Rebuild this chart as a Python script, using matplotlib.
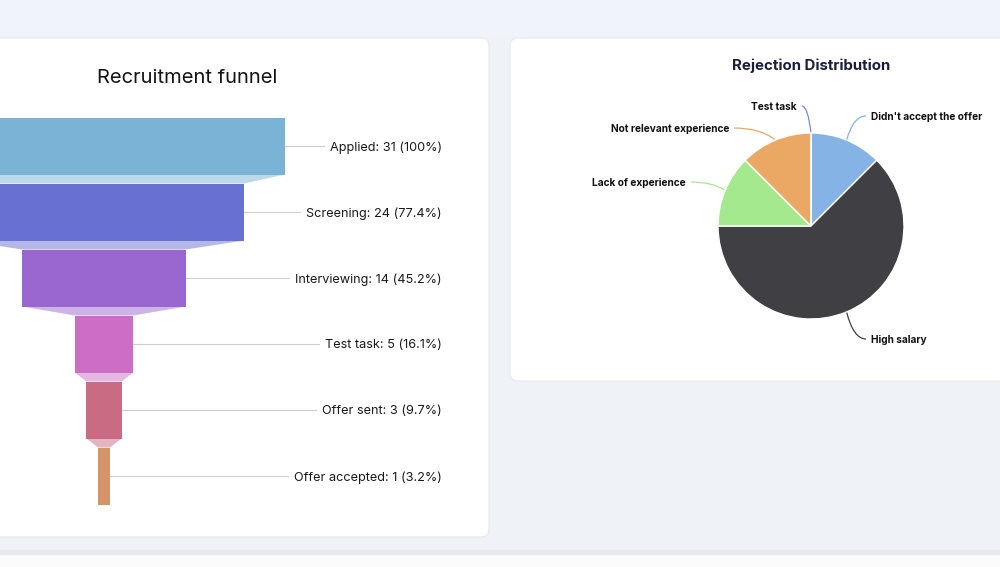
import numpy as np
import matplotlib
matplotlib.use("Agg")
import matplotlib.pyplot as plt
from matplotlib.patches import FancyBboxPatch, Rectangle, Polygon, PathPatch
from matplotlib.path import Path
from matplotlib.colors import to_rgb

plt.rcParams['font.family'] = ['Inter', 'DejaVu Sans']

# ---------------- data ----------------
stages = ["Applied", "Screening", "Interviewing", "Test task", "Offer sent", "Offer accepted"]
counts = [31, 24, 14, 5, 3, 1]
stage_colors = ["#79b3d6", "#6870d2", "#9a66cf", "#cc6ec6", "#c96b82", "#d4956a"]

reasons = ["Didn't accept the offer", "High salary", "Lack of experience",
           "Not relevant experience", "Test task"]
reason_counts = [1, 5, 1, 1, 0]
reason_colors = ["#85b3e6", "#404044", "#a5e98f", "#eba865", "#8085e9"]

# ---------------- figure / background ----------------
W, H = 1000, 567
fig = plt.figure(figsize=(W / 100, H / 100), dpi=100)
fig.patch.set_facecolor("#eff2f6")

bg = fig.add_axes([0, 0, 1, 1])
bg.set_xlim(0, W)
bg.set_ylim(H, 0)
bg.axis("off")
bg.add_patch(Rectangle((0, 0), W, 37, color="#f0f4fa", zorder=0))
bg.add_patch(Rectangle((0, 37), W, 515, color="#eff2f6", zorder=0))
bg.add_patch(Rectangle((0, 552), W, 15, color="#fbfbfc", zorder=0))
bg.add_patch(Rectangle((0, 550), W, 4, color="#e6e9ee", zorder=0))
# cards
bg.add_patch(FancyBboxPatch((-20, 38), 509, 499, boxstyle="round,pad=0,rounding_size=8",
                            fc="white", ec="#e6e9ee", lw=0.8, zorder=1))
bg.add_patch(FancyBboxPatch((510, 38), 510, 343, boxstyle="round,pad=0,rounding_size=8",
                            fc="white", ec="#e6e9ee", lw=0.8, zorder=1))

# titles
bg.text(187, 78, "Recruitment funnel", ha="center", va="center", fontsize=14.5,
        color="#141414", zorder=3)
bg.text(811, 66, "Rejection Distribution", ha="center", va="center", fontsize=10.8,
        fontweight="bold", color="#1c1d3c", zorder=3)

# ---------------- funnel ----------------
cx_px = 104.0
px_per_unit = 362.0 / counts[0]
fa = fig.add_axes([0, (H - 509) / H, 0.489, 396 / H])
fa.set_xlim(-cx_px / px_per_unit, (489 - cx_px) / px_per_unit)
fa.set_ylim(len(stages) - 0.5, -0.5)
fa.axis("off")
fa.patch.set_alpha(0)

bar_h = 57 / 66


def lighten(c, f=0.5):
    r, g, b = to_rgb(c)
    return (r + (1 - r) * f, g + (1 - g) * f, b + (1 - b) * f)


ypos = np.arange(len(stages))
fa.barh(ypos, counts, left=[-c / 2 for c in counts], height=bar_h,
        color=stage_colors, zorder=3)
for i in range(len(stages) - 1):
    top = i + bar_h / 2
    bot = i + 1 - bar_h / 2
    a, b = counts[i] / 2, counts[i + 1] / 2
    fa.add_patch(Polygon([(-a, top), (a, top), (b, bot), (-b, bot)],
                         closed=True, fc=lighten(stage_colors[i], 0.5), ec="none", zorder=2))

label_x = (442 - cx_px) / px_per_unit
texts = []
for i, (s, c) in enumerate(zip(stages, counts)):
    pct = c / counts[0] * 100
    ps = f"{pct:.1f}".rstrip("0").rstrip(".")
    t = fa.text(label_x, i, f"{s}: {c} ({ps}%)", ha="right", va="center_baseline",
                fontsize=9.15, color="#1a1a1a", zorder=4)
    texts.append(t)

fig.canvas.draw()
inv = fa.transData.inverted()
for i, (t, c) in enumerate(zip(texts, counts)):
    bb = t.get_window_extent()
    x_left = inv.transform((bb.x0, 0))[0]
    gap = 6 / px_per_unit
    fa.plot([c / 2, x_left - gap], [i, i], color="#cfcfcf", lw=0.8, zorder=1)

# ---------------- pie ----------------
pcx, pcy, pr = 811.0, 226.0, 93.0
half = 150.0
pa = fig.add_axes([(pcx - half) / W, (H - pcy - half) / H, 2 * half / W, 2 * half / H])
wedges, _ = pa.pie(reason_counts, colors=reason_colors, startangle=90, counterclock=False,
                   radius=1.0, wedgeprops=dict(edgecolor="white", linewidth=1.0))
lim = half / pr
pa.set_xlim(-lim, lim)
pa.set_ylim(-lim, lim)
pa.set_aspect("equal")
pa.axis("off")


def p2d(px, py):
    return ((px - pcx) / pr, (pcy - py) / pr)


# label anchors in pixel layout: (x, y, ha)
label_layout = [(871, 116, "left"), (871, 339, "left"), (686, 182, "right"),
                (729, 128, "right"), (797, 106, "right")]

for w, name, col, (lx, ly, ha) in zip(wedges, reasons, reason_colors, label_layout):
    mid = np.deg2rad((w.theta1 + w.theta2) / 2)
    ex, ey = np.cos(mid), np.sin(mid)
    tx, ty = p2d(lx, ly)
    pa.text(tx, ty, name, ha=ha, va="center_baseline", fontsize=7.3, fontweight="bold",
            color="#111111", clip_on=False)
    off = 5 / pr
    ax_ = tx - off if ha == "left" else tx + off
    cxp = ex + 0.35 * (ax_ - ex)
    path = Path([(ax_, ty), (cxp, ty), (ex, ey)], [Path.MOVETO, Path.CURVE3, Path.CURVE3])
    pa.add_patch(PathPatch(path, fc="none", ec=col, lw=0.9, clip_on=False, zorder=0))

fig.savefig("out.png", dpi=100, facecolor=fig.get_facecolor())
